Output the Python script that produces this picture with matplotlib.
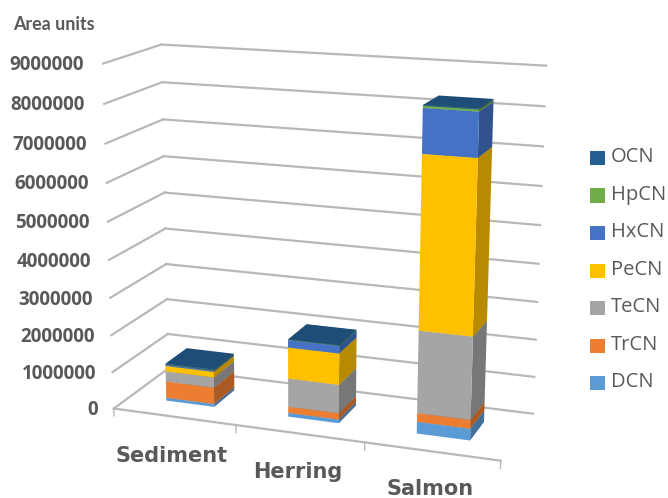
import numpy as np
import matplotlib
matplotlib.use("Agg")
import matplotlib.pyplot as plt
from matplotlib.colors import to_rgb
from matplotlib.legend_handler import HandlerPatch
from matplotlib.patches import Patch, Rectangle

samples = ["Sediment", "Herring", "Salmon"]
congeners = ["DCN", "TrCN", "TeCN", "PeCN", "HxCN", "HpCN", "OCN"]
dcn = [80000, 100000, 310000]
trcn = [450000, 170000, 230000]
tecn = [280000, 760000, 2150000]
pecn = [150000, 830000, 4420000]
hxcn = [30000, 200000, 1110000]
hpcn = [5000, 5000, 50000]
ocn = [30000, 10000, 20000]
colors = ["#5B9BD5", "#ED7D31", "#A5A5A5", "#FFC000", "#4472C4", "#70AD47", "#255E91"]
y_ticks = [0, 1000000, 2000000, 3000000, 4000000, 5000000, 6000000, 7000000, 8000000, 9000000]
y_max = 9000000

W, H = 668, 498
fig = plt.figure(figsize=(W / 100, H / 100), dpi=100)
# 3d axes are forced square, so make the square as wide as the figure
ax = fig.add_axes([0, -(W - H) / 2 / H, 1, W / H], projection="3d")
ax.apply_aspect()
ax.set_axis_off()
ax.computed_zorder = False

# camera: chart box corners (category, depth, height/y_max) -> pixel on the figure
box = [(0, 0, 0), (0, 1, 0), (3, 1, 0), (3, 0, 0), (0, 0, 1), (0, 1, 1), (3, 1, 1),
       (0, 0, 1 / 9), (0, 1, 1 / 9), (3, 1, 1 / 9)]
pix = [(115, 408), (165, 370), (533, 413), (500, 462), (102, 63), (162, 45), (546, 66),
       (113, 372), (170, 333), (535, 376)]
view = ax.transData.inverted().transform([(px, H - py) for px, py in pix])
rows, rhs = [], []
for (X, Y, Z), (u, v) in zip(box, view):
    rows.append([X, Y, Z, 1, 0, 0, 0, 0, -u * X, -u * Y, -u * Z])
    rows.append([0, 0, 0, 0, X, Y, Z, 1, -v * X, -v * Y, -v * Z])
    rhs += [u, v]
p = np.linalg.lstsq(np.array(rows), np.array(rhs), rcond=None)[0]
# third row is only depth for sorting, kept negative so lines are not clipped
proj = np.array([[p[0], p[1], p[2] / y_max, p[3]],
                 [p[4], p[5], p[6] / y_max, p[7]],
                 [0, 1, -0.5 / y_max, -3],
                 [p[8], p[9], p[10] / y_max, 1]])
ax.get_proj = lambda: proj

# walls and floor
grid = "#b8b8b8"
for v in y_ticks:
    ax.plot([0, 0], [0, 1], [v, v], color=grid, lw=1.6, zorder=0)
    ax.plot([0, 3], [1, 1], [v, v], color=grid, lw=1.6, zorder=0)
ax.plot([0, 3], [0, 0], [0, 0], color=grid, lw=1.6, zorder=0)
for i in range(4):
    ax.plot([i, i], [0, 0], [0, -200000], color=grid, lw=1, zorder=0)

# stacked bars, only front, right and top faces are filled
xpos = np.arange(3) + 0.3
ypos = np.full(3, 0.3)
bar_w = 0.4
bar_d = 0.4
series = [dcn, trcn, tecn, pecn, hxcn, hpcn, ocn]
bottom = np.zeros(3)
clear = (0, 0, 0, 0)
for vals, col in zip(series, colors):
    base = np.array(to_rgb(col))
    faces = [clear, tuple(base * 0.82) + (1,), tuple(base) + (1,), clear, clear, tuple(base * 0.72) + (1,)]
    ax.bar3d(xpos, ypos, bottom, bar_w, bar_d, vals, color=faces * 3, shade=False)
    bottom = bottom + np.array(vals)

# y tick labels sit along the slanted front edge of the wall
tick_y = [410, 374, 337, 300, 262, 223, 184, 145, 105, 65]
tick_x = [98, 96, 95, 93, 91, 90, 89, 87, 85, 84]
for v, px, py in zip(y_ticks, tick_x, tick_y):
    fig.text(px / W, 1 - py / H, str(v), ha="right", va="center", fontsize=13.5,
             fontweight="bold", color="#595959", family="Open Sans")
fig.text(13 / W, 1 - 25 / H, "Area units", ha="left", va="center", fontsize=12.9,
         fontweight="bold", color="#595959", family="Lato")

# category labels
label_pos = [(172, 456), (298, 472), (430, 489)]
for name, (px, py) in zip(samples, label_pos):
    fig.text(px / W, 1 - py / H, name, ha="center", va="center", fontsize=15,
             fontweight="bold", color="#595959", family="DejaVu Sans")


# legend squares hang a little below the text centre
def low_square(legend, orig_handle, xdescent, ydescent, width, height, fontsize):
    return Rectangle((-xdescent, -ydescent - 2.2), width, height)


handles = [Patch(facecolor=c) for c in colors[::-1]]
fig.legend(handles, congeners[::-1], loc="upper left", bbox_to_anchor=(572 / W, 1 - 129 / H),
           frameon=False, handlelength=0.72, handleheight=0.72,
           labelspacing=0.87, handletextpad=0.3, labelcolor="#595959",
           handler_map={Patch: HandlerPatch(patch_func=low_square)},
           prop={"family": "Open Sans", "size": 14.5})

fig.savefig("out.png", dpi=100)
